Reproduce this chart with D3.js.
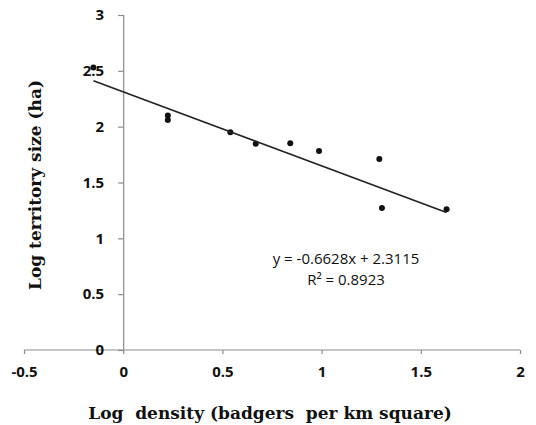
<!DOCTYPE html>
<html>
<head>
<meta charset="utf-8">
<script src="https://cdn.jsdelivr.net/npm/d3@7"></script>
<style>
  body { margin: 0; background: #fff; }
</style>
</head>
<body>
<div id="chart"></div>
<script>
// log density vs log territory size
var logDensity = [-0.15, 0.225, 0.225, 0.54, 0.668, 0.842, 0.987, 1.291, 1.304, 1.63];
var logTerritory = [2.53, 2.10, 2.06, 1.95, 1.847, 1.851, 1.782, 1.71, 1.272, 1.26];
var xTicks = [-0.5, 0, 0.5, 1, 1.5, 2];
var yTicks = [0, 0.5, 1, 1.5, 2, 2.5, 3];
var slope = [-0.6628];
var intercept = [2.3115];
var equationLines = ["y = -0.6628x + 2.3115", "R² = 0.8923"];

var width = 536, height = 425;

var svg = d3.select("#chart")
    .append("svg")
    .attr("width", width)
    .attr("height", height);

var x = d3.scaleLinear()
    .domain([-0.5, 2])
    .range([24, 520]);

var y = d3.scaleLinear()
    .domain([0, 3])
    .range([350, 15]);

var data = logDensity.map(function(d, i) {
    return {x: d, y: logTerritory[i]};
});

// points (drawn before axis labels, like excel)
svg.append("g")
    .selectAll("circle")
    .data(data)
    .enter().append("circle")
    .attr("cx", function(d) { return x(d.x); })
    .attr("cy", function(d) { return y(d.y); })
    .attr("r", 3)
    .attr("fill", "#111");

// x axis at y = 0
var xAxis = svg.append("g")
    .attr("transform", "translate(0," + y(0) + ")")
    .call(d3.axisBottom(x).tickValues(xTicks).tickSize(4).tickPadding(12)
        .tickFormat(function(d) { return d; }));

// y axis at x = 0
var yAxis = svg.append("g")
    .attr("transform", "translate(" + x(0) + ",0)")
    .call(d3.axisLeft(y).tickValues(yTicks).tickSize(5).tickPadding(14)
        .tickFormat(function(d) { return d; }));

[xAxis, yAxis].forEach(function(a) {
    a.select(".domain").attr("stroke", "#8c8c8c").attr("stroke-width", 1.2);
    a.selectAll(".tick line").attr("stroke", "#8c8c8c").attr("stroke-width", 1.2);
    a.selectAll(".tick text")
        .attr("fill", "#111")
        .style("font-family", "'Open Sans', sans-serif")
        .style("font-weight", "700")
        .style("font-size", "15px");
});
xAxis.select(".domain").attr("d", "M" + x(-0.5) + ",0H" + x(2));

// trend line over data range
var xr = d3.extent(logDensity);
svg.append("line")
    .attr("x1", x(xr[0]))
    .attr("y1", y(slope[0] * xr[0] + intercept[0]))
    .attr("x2", x(xr[1]))
    .attr("y2", y(slope[0] * xr[1] + intercept[0]))
    .attr("stroke", "#222")
    .attr("stroke-width", 1.6);

// equation
svg.append("g")
    .selectAll("text")
    .data(equationLines)
    .enter().append("text")
    .attr("x", 346)
    .attr("y", function(d, i) { return 264 + i * 21; })
    .attr("text-anchor", "middle")
    .style("font-family", "'Open Sans', sans-serif")
    .style("font-size", "15px")
    .attr("fill", "#111")
    .text(function(d) { return d; });

// axis titles
svg.append("text")
    .attr("x", 270)
    .attr("y", 419)
    .attr("text-anchor", "middle")
    .style("font-family", "'DejaVu Serif', serif")
    .style("font-weight", "700")
    .style("font-size", "17px")
    .attr("fill", "#111")
    .attr("xml:space", "preserve")
    .text("Log  density (badgers  per km square)");

svg.append("text")
    .attr("transform", "translate(41,185) rotate(-90)")
    .attr("text-anchor", "middle")
    .style("font-family", "'DejaVu Serif', serif")
    .style("font-weight", "700")
    .style("font-size", "17px")
    .attr("fill", "#111")
    .text("Log territory size (ha)");
</script>
</body>
</html>
